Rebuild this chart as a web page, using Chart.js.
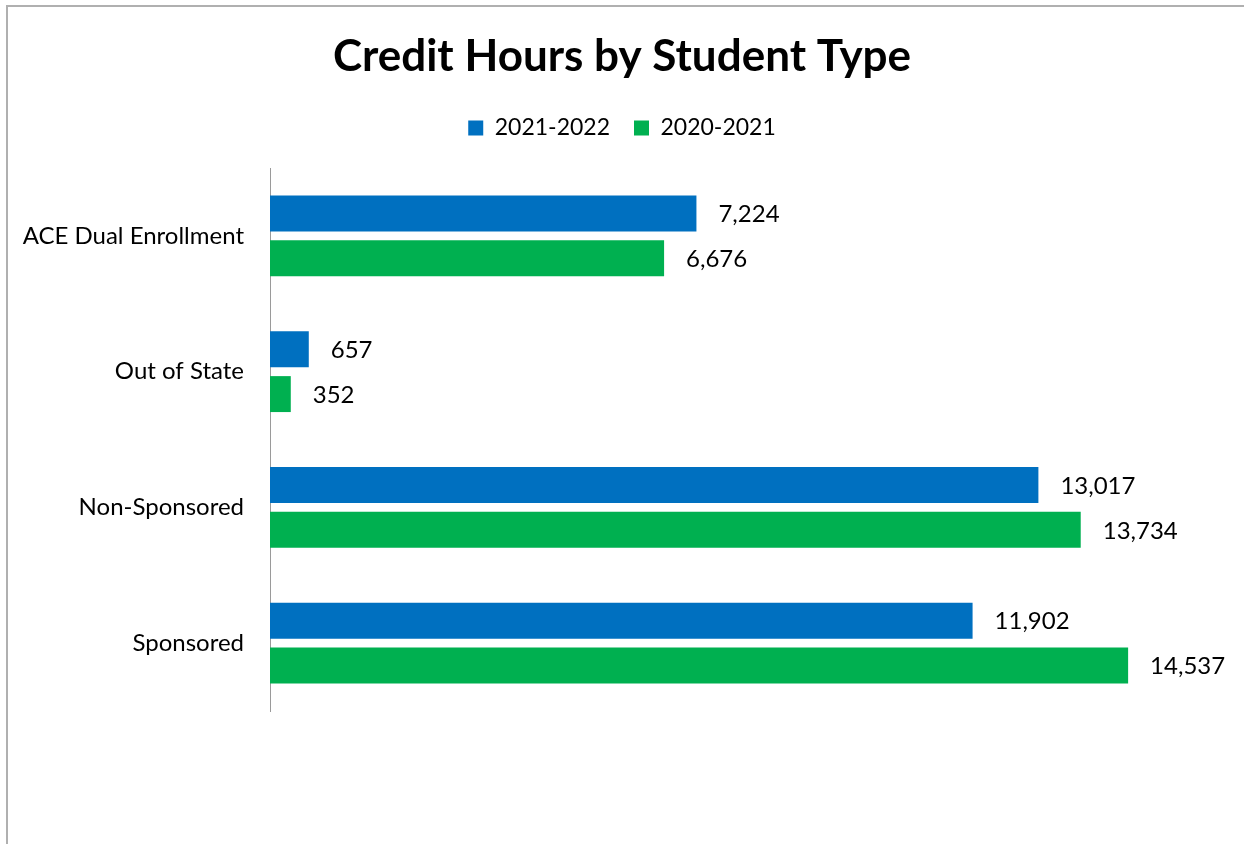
<!DOCTYPE html>
<html>
<head>
<meta charset="utf-8">
<title>Credit Hours by Student Type</title>
<script src="https://cdn.jsdelivr.net/npm/chart.js@4/dist/chart.umd.min.js"></script>
<style>
  html, body { margin: 0; padding: 0; background: #fff; overflow: hidden; }
  #wrap { position: relative; width: 1244px; height: 844px; }
  #frame {
    position: absolute; left: 6px; top: 5px; width: 1300px; height: 900px;
    border-left: 2px solid #b0b0b0; border-top: 2px solid #b0b0b0;
    pointer-events: none;
  }
</style>
</head>
<body>
<div id="wrap">
  <canvas id="chart" width="1244" height="844"></canvas>
  <div id="frame"></div>
</div>
<script>
  // Data
  const categories = ["ACE Dual Enrollment", "Out of State", "Non-Sponsored", "Sponsored"];
  const seriesNames = ["2021-2022", "2020-2021"];
  const values2122 = [7224, 657, 13017, 11902];
  const values2021 = [6676, 352, 13734, 14537];
  const xMax = 16500;

  const FONT = "Lato, 'Open Sans', sans-serif";

  // Value labels at the end of each bar
  const barLabels = {
    id: "barLabels",
    afterDatasetsDraw(chart) {
      const ctx = chart.ctx;
      ctx.save();
      ctx.font = "24px " + FONT;
      ctx.fillStyle = "#000";
      ctx.textAlign = "left";
      ctx.textBaseline = "middle";
      chart.data.datasets.forEach(function (ds, i) {
        chart.getDatasetMeta(i).data.forEach(function (bar, j) {
          ctx.fillText(ds.data[j].toLocaleString("en-US"), bar.x + 22, bar.y + 1);
        });
      });
      ctx.restore();
    },
  };

  let ctx = document.getElementById("chart").getContext("2d");
  let myChart = new Chart(ctx, {
    type: "bar",
    data: {
      labels: categories,
      datasets: [
        {
          label: seriesNames[0],
          data: values2122,
          backgroundColor: "#0070C0",
        },
        {
          label: seriesNames[1],
          data: values2021,
          backgroundColor: "#00B050",
        },
      ],
    },
    options: {
      indexAxis: "y",
      responsive: false,
      animation: false,
      categoryPercentage: 0.662,
      barPercentage: 0.8,
      layout: { padding: { left: 0, right: 0, top: 0, bottom: 133 } },
      plugins: {
        title: {
          display: true,
          text: "Credit Hours by Student Type",
          color: "#000",
          font: { family: FONT, size: 44, weight: "bold" },
          padding: { top: 30.6, bottom: 9.1 },
        },
        legend: {
          display: true,
          labels: {
            color: "#000",
            font: { family: FONT, size: 23 },
            boxWidth: 15,
            boxHeight: 15,
            padding: 24,
          },
        },
        tooltip: { enabled: false },
      },
      scales: {
        x: {
          position: "top",
          min: 0,
          max: xMax,
          grid: { display: false },
          border: { display: false },
          ticks: { display: false },
          // empty strip between legend and plot
          afterFit(scale) {
            scale.height = 18.5;
          },
        },
        y: {
          grid: { display: false, drawTicks: false },
          border: { display: true, color: "#9a9a9a", width: 1 },
          ticks: {
            color: "#000",
            font: { family: FONT, size: 24 },
            padding: 26,
          },
          afterFit(scale) {
            scale.width = 270;
          },
        },
      },
    },
    plugins: [barLabels],
  });
</script>
</body>
</html>
